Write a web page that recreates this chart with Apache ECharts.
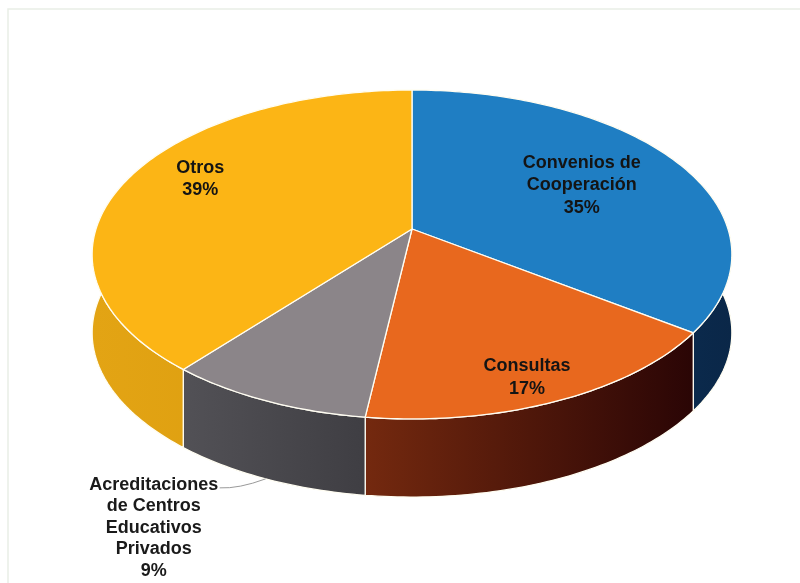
<!DOCTYPE html>
<html>
<head>
<meta charset="utf-8">
<script src="https://cdn.jsdelivr.net/npm/echarts@6/dist/echarts.min.js"></script>
<style>
  html, body { margin: 0; padding: 0; background: #ffffff; }
  #chart { width: 800px; height: 583px; }
</style>
</head>
<body>
<div id="chart"></div>
<script>
// Slice names and shares (percent), clockwise from 12 o'clock
const categories = ['Convenios de\nCooperación', 'Consultas', 'Acreditaciones\nde Centros\nEducativos\nPrivados', 'Otros'];
const shares = [35, 17, 9, 39];

// Face colours (top) and side-wall gradients (left -> right)
const topColors = ['#1f7ec3', '#e8681e', '#8b8589', '#fcb515'];
const wallColors = [
  ['#0f3a66', '#0a2748'],
  ['#74290f', '#2a0505'],
  ['#525156', '#3f3e43'],
  ['#e3a414', '#d89a0c']
];

// Label placement per slice: radius fraction inside the top face (plus a small nudge),
// or an outside callout below the wall
const labelPlacement = [
  { r: 0.63, dx: 0, dy: 0 },
  { r: 0.86, dx: -8, dy: 4 },
  { outside: true, dx: -112, dy: 49, lineEndDx: -46, lineEndDy: 9 },
  { r: 0.78, dx: 11, dy: -9 }
];

const total = shares.reduce((a, b) => a + b, 0);
const starts = [];
shares.reduce((acc, v, i) => { starts[i] = acc; return acc + v; }, 0);

// Tilted disc seen with a bit of perspective: front edge larger than back edge
function makeProjector(api) {
  const W = api.getWidth(), H = api.getHeight();
  const g = {
    cx: W * 0.515, cy: H * 0.3928,
    rx: W * 0.395, ry: H * 0.2753,
    k: 0.155, depth: H * 0.134
  };
  function proj(theta, r, h) {
    const u = r * Math.sin(theta), v = -r * Math.cos(theta);
    const s = 1 / (1 - g.k * v);
    return [g.cx + g.rx * u * s, g.cy + g.ry * v * s + (h || 0)];
  }
  return { g, proj };
}

function sliceAngles(api) {
  const v = api.value(0), st = api.value(1);
  return [st / total * Math.PI * 2, (st + v) / total * Math.PI * 2];
}

function arcPoints(proj, a0, a1, r, h) {
  const pts = [];
  const n = Math.max(2, Math.ceil(Math.abs(a1 - a0) / (Math.PI / 180)));
  for (let i = 0; i <= n; i++) {
    pts.push(proj(a0 + (a1 - a0) * i / n, r, h));
  }
  return pts;
}

const EDGE = '#fffdf2';
const FONT = 'bold 18px "Liberation Sans", Arial, sans-serif';

function renderWall(params, api) {
  const { g, proj } = makeProjector(api);
  const [a0, a1] = sliceAngles(api);
  const i = params.dataIndex;
  const topArc = arcPoints(proj, a0, a1, 1, 0);
  const botArc = arcPoints(proj, a1, a0, 1, g.depth);
  return {
    type: 'polygon',
    shape: { points: topArc.concat(botArc) },
    style: {
      fill: {
        type: 'linear', x: 0, y: 0, x2: 1, y2: 0,
        colorStops: [
          { offset: 0, color: wallColors[i][0] },
          { offset: 1, color: wallColors[i][1] }
        ]
      },
      stroke: EDGE,
      lineWidth: 1.3
    }
  };
}

function renderTop(params, api) {
  const { g, proj } = makeProjector(api);
  const [a0, a1] = sliceAngles(api);
  const i = params.dataIndex;
  const center = proj(0, 0, 0);
  const pts = [center].concat(arcPoints(proj, a0, a1, 1, 0));
  const label = categories[i] + '\n' + Math.round(api.value(0) / total * 100) + '%';
  const mid = (a0 + a1) / 2;
  const place = labelPlacement[i];
  const children = [{
    type: 'polygon',
    shape: { points: pts },
    style: { fill: topColors[i], stroke: EDGE, lineWidth: 1.3 }
  }];
  if (place.outside) {
    const anchor = proj(mid, 1, g.depth);
    const end = [anchor[0] + place.lineEndDx, anchor[1] + place.lineEndDy];
    children.push({
      type: 'bezierCurve',
      shape: {
        x1: anchor[0], y1: anchor[1], x2: end[0], y2: end[1],
        cpx1: (anchor[0] + end[0]) / 2 - 4, cpy1: end[1] + 1
      },
      style: { stroke: '#9a9a9a', lineWidth: 1, fill: null }
    });
    children.push({
      type: 'text',
      style: {
        text: label, x: anchor[0] + place.dx, y: anchor[1] + place.dy,
        align: 'center', verticalAlign: 'middle',
        font: FONT, fill: '#1a1a1a', lineHeight: 21.5
      }
    });
  } else {
    const p = proj(mid, place.r, 0);
    children.push({
      type: 'text',
      style: {
        text: label, x: p[0] + place.dx, y: p[1] + place.dy,
        align: 'center', verticalAlign: 'middle',
        font: FONT, fill: '#141414', lineHeight: 22.5
      }
    });
  }
  return { type: 'group', children };
}

const seriesData = shares.map((v, i) => ({ name: categories[i], value: [v, starts[i]] }));

const chart = echarts.init(document.getElementById('chart'), null, { renderer: 'canvas' });
chart.setOption({
  backgroundColor: '#ffffff',
  animation: false,
  graphic: [{
    type: 'polyline',
    shape: { points: [[8, 583], [8, 9], [800, 9]] },
    style: { stroke: '#e9eee6', lineWidth: 1.5, fill: null },
    silent: true
  }],
  series: [
    {
      type: 'custom',
      coordinateSystem: 'none',
      renderItem: renderWall,
      data: seriesData,
      z: 1,
      silent: true
    },
    {
      type: 'custom',
      coordinateSystem: 'none',
      renderItem: renderTop,
      data: seriesData,
      z: 2,
      silent: true
    }
  ]
});
</script>
</body>
</html>
